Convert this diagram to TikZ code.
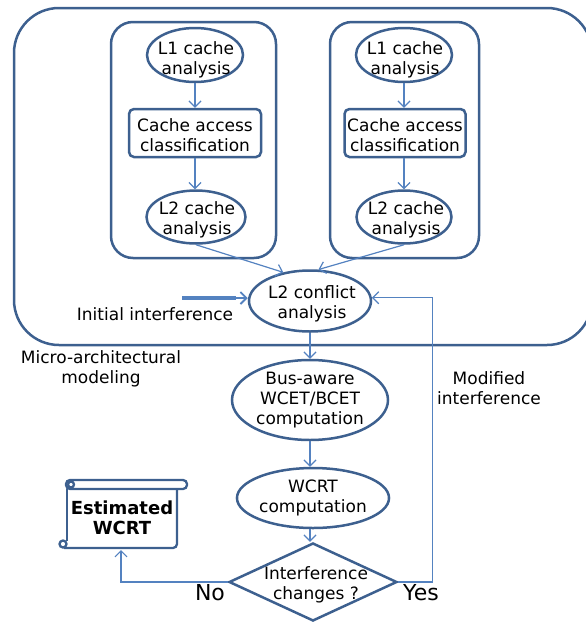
\documentclass[tikz,border=0pt]{standalone}
\usepackage{fontspec}
\setmainfont{DejaVu Sans}
\usetikzlibrary{shapes.geometric,arrows.meta}
\definecolor{frameblue}{RGB}{61,96,143}
\definecolor{linkblue}{RGB}{84,130,192}
\begin{document}
\begin{tikzpicture}[x=1pt,y=-1pt,
  every node/.style={font=\fontsize{17}{20}\selectfont, align=center, text=black},
  stage/.style={draw=frameblue, line width=2.5pt, ellipse, inner sep=0pt},
  boxstep/.style={draw=frameblue, line width=2.5pt, rounded corners=5pt, inner sep=0pt},
  frame/.style={draw=frameblue, line width=2.5pt},
  link/.style={draw=linkblue, line width=1.2pt, -{Straight Barb[length=6pt,width=12pt]}},
]
\useasboundingbox (0,0) rectangle (586,622);
\clip (0,0) rectangle (586,622);

% micro-architectural modeling frame and the two per-core groups
\draw[frame, rounded corners=45pt] (14,8) rectangle (592,345);
\draw[frame, rounded corners=22pt] (111,22) rectangle (276,258);
\draw[frame, rounded corners=22pt] (330,22) rectangle (479,258);

% core 1: shapes, then their texts
\node[stage, minimum width=96pt, minimum height=54pt] (l1a) at (195,55) {};
\node[boxstep, minimum width=132pt, minimum height=48pt] (caa) at (195,133) {};
\node[stage, minimum width=99pt, minimum height=53pt] (l2a) at (196,217) {};
\node (l1a-t) at (196,60) {L1 cache\\analysis};
\node (caa-t) at (195,135.5) {Cache access\\classification};
\node (l2a-t) at (197,219.5) {L2 cache\\analysis};

% core 2
\node[stage, minimum width=96pt, minimum height=54pt] (l1b) at (404,55) {};
\node[boxstep, minimum width=121pt, minimum height=48pt] (cab) at (405,133) {};
\node[stage, minimum width=95pt, minimum height=53pt] (l2b) at (404,217) {};
\node (l1b-t) at (405,60) {L1 cache\\analysis};
\node (cab-t) at (405,135.5) {Cache access\\classification};
\node (l2b-t) at (406,219.5) {L2 cache\\analysis};

% shared analysis chain
\node[stage, minimum width=122pt, minimum height=61pt] (conf) at (310,301) {};
\node (conf-t) at (312,304) {L2 conflict\\analysis};
\node[stage, minimum width=156pt, minimum height=80pt] (bus) at (310,400) {Bus-aware\\WCET/BCET\\computation};
\node[stage, minimum width=148pt, minimum height=60pt] (wcrt) at (313,498) {WCRT\\computation};
\node[draw=frameblue, line width=2.5pt, diamond, minimum width=168pt, minimum height=78pt, inner sep=0pt] (dec) at (313,582) {};
\node (dect) at (316,585) {Interference\\changes ?};

% labels
\node (ii) at (155,314) {Initial interference};
\node (mam) at (101,369) {Micro-architectural\\modeling};
\node (mi) at (489,388) {Modified\\interference};
\node[font=\fontsize{22}{26}\selectfont] (no) at (210,593) {No};
\node[font=\fontsize{22}{26}\selectfont] (yes) at (421,593) {Yes};

% result scroll
\draw[frame, line width=2.3pt, rounded corners=4pt] (66,480) rectangle (187,489);
\draw[frame, line width=2.3pt] (67,489) -- (67,541);
\draw[frame, line width=2.3pt, rounded corners=4pt] (177,489) -- (177,548) -- (64,548);
\draw[frame, line width=2.3pt, fill=white] (71,484.5) circle (3pt);
\draw[frame, line width=2.3pt, fill=white] (63,544) circle (3.5pt);
\node[font=\bfseries\fontsize{18}{20}\selectfont] (est) at (122,518) {Estimated\\WCRT};
\coordinate (estin) at (121,550);

% connectors
\draw[link] (l1a) -- (caa);
\draw[link] (caa.south) -- (caa.south |- l2a.north);
\draw[link] (l1b) -- (l1b |- cab.north);
\draw[link] (l1b |- cab.south) -- (l2b);
\draw[link] (l2a.south) -- (conf.133);
\draw[link] (l2b.south) -- (conf.75);

\coordinate (iia) at (182,298);
\coordinate (iib) at (236,298);
\draw[linkblue, line width=3.5pt] (iia) -- (iib);
\draw[link, line width=1.8pt] (iib) -- (iib -| conf.west);

\draw[link] (conf) -- (bus);
\draw[link] (bus.south) -- (bus.south |- wcrt.north);
\draw[link] (bus.south |- wcrt.south) -- (bus.south |- dec.north);
\draw[link] (dec.east) -- ++(34,0) |- (conf.3);
\draw[link] (dec.west) -| (estin);
\end{tikzpicture}
\end{document}
